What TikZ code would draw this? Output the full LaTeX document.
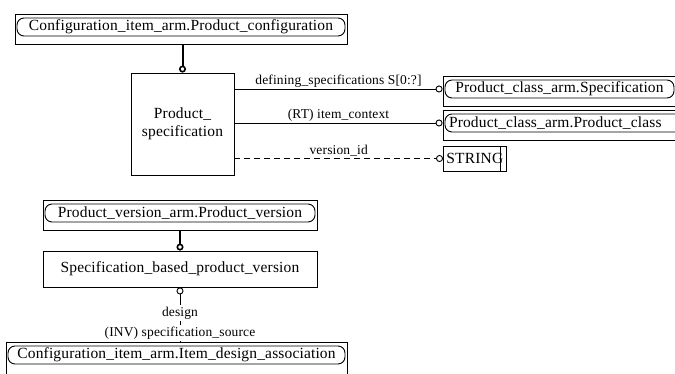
\documentclass[tikz,border=0pt]{standalone}
\usepackage{fontspec}
\setmainfont{Liberation Serif}[LetterSpace=1]
\usetikzlibrary{arrows.meta}

\tikzset{
  refname/.style={draw, rounded corners=7, minimum height=18, inner sep=0, line width=0.9},
  refframe/.style={draw, minimum height=30, inner sep=0, line width=0.9},
  entbox/.style={draw, inner sep=0, line width=0.9},
  relline/.style={line width=0.9, -{Circle[open,length=7,width=7]}},
  supline/.style={line width=2, -{Circle[open,length=7,width=7,line width=1.6]}},
  rellabel/.style={inner sep=1.5, font=\fontsize{13.5}{16}\selectfont}
}

\begin{document}
\begin{tikzpicture}[x=1pt, y=-1pt, font=\fontsize{15.5}{18}\selectfont]
  \clip (0,0) rectangle (675,374);
  \fill[white] (0,0) rectangle (675,374);

  \node[refframe, minimum width=332] (prodconf) at (181,29) {};
  \node[refname, minimum width=328, anchor=north] (prodconfname) at ([yshift=-4]prodconf.north) {Configuration\_item\_arm.Product\_configuration};
  \node[entbox, minimum width=103, minimum height=102, align=center] (prodspec) at (182.5,124) {Product\_\\specification};

  \node[refframe, minimum width=233] (specref) at (559.5,91) {};
  \node[refname, minimum width=229, anchor=north] (specrefname) at ([yshift=-4]specref.north) {Product\_class\_arm.Specification};
  \node[refframe, minimum width=257] (pcref) at (571.5,125) {};
  \node[refname, text width=245, align=left, inner xsep=4, anchor=north] (pcrefname) at ([yshift=-4]pcref.north) {Product\_class\_arm.Product\_class};
  \node[entbox, minimum height=25, inner xsep=3, anchor=west] (stringtype) at (443,158.5) {STRING\hspace{10pt}};
  \draw[line width=0.9] ([xshift=-6]stringtype.north east) -- ([xshift=-6]stringtype.south east);

  \node[refframe, minimum width=274] (prodver) at (180,215) {};
  \node[refname, minimum width=270, anchor=north] (prodvername) at ([yshift=-4]prodver.north) {Product\_version\_arm.Product\_version};
  \node[entbox, minimum width=274, minimum height=36] (sbpv) at (180,269) {Specification\_based\_product\_version};
  \node[refframe, minimum width=341, minimum height=36] (idassoc) at (176.5,360) {};
  \node[refname, minimum width=337, anchor=north] (idassocname) at ([yshift=-4]idassoc.north) {Configuration\_item\_arm.Item\_design\_association};

  % supertypes
  \draw[supline] (prodconf.south -| prodspec.north) -- (prodspec.north);
  \draw[supline] (prodver.south -| sbpv.north) -- (sbpv.north);

  % attributes
  \draw[relline] (specrefname.west -| prodspec.east) -- node[above, rellabel] {defining\_specifications S[0:?]} (specrefname.west -| specref.west);
  \draw[relline] (pcrefname.west -| prodspec.east) -- node[above, rellabel] {(RT) item\_context} (pcrefname.west -| pcref.west);
  \draw[relline, dash pattern=on 6 off 4] (stringtype.west -| prodspec.east) -- node[above, rellabel] {version\_id} (stringtype.west);
  \draw[relline] (idassoc.north -| sbpv.south) -- node[pos=0.16, rellabel, fill=white] {(INV) specification\_source} node[pos=0.53, rellabel, fill=white] {design} (sbpv.south);
\end{tikzpicture}
\end{document}
